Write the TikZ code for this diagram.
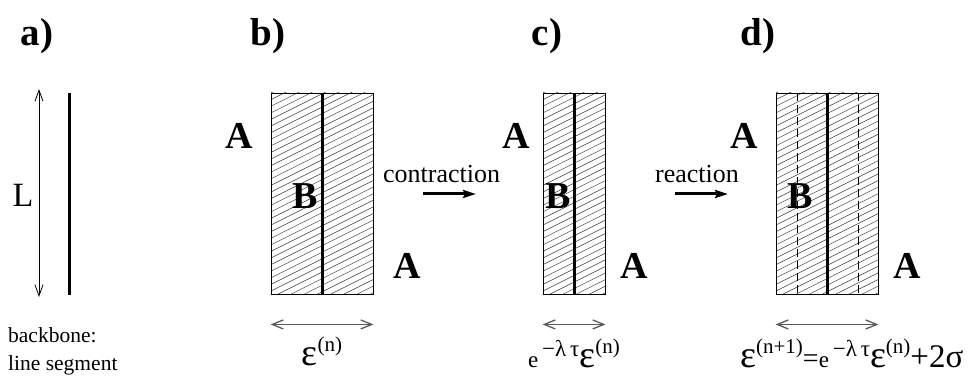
\documentclass[tikz,border=0pt]{standalone}
\usepackage{fontspec}
\setmainfont{Liberation Serif}
\usetikzlibrary{arrows.meta,calc}
\newcommand\myeps{{\fontsize{38}{38}\selectfont ε}}
\newcommand\mysupp[1]{{\fontsize{21}{21}\selectfont\raisebox{14pt}{#1}}}
\newcommand\myexp{{\fontsize{23}{23}\selectfont e\,\raisebox{11pt}{−λ\,τ}}}
\begin{document}
\begin{tikzpicture}[x=1pt,y=-1pt,
  title/.style={font=\fontsize{39}{40}\selectfont\bfseries, anchor=base, inner sep=0pt},
  letter/.style={font=\fontsize{38}{40}\selectfont\bfseries, anchor=base, inner sep=0pt},
  plain/.style={font=\fontsize{26}{28}\selectfont, inner sep=0pt},
  small/.style={font=\fontsize{21.5}{24}\selectfont, anchor=base west, inner sep=0pt},
  hatch/.style={line width=0.5pt, black!75},
  box/.style={draw=black, line width=0.9pt, minimum height=201pt, inner sep=0pt,
    path picture={\foreach \k in {0,...,48}{\draw[hatch] ([yshift=-\k*6.6pt]path picture bounding box.north west) -- ++(320,-160);}}},
  backbone/.style={line width=3pt},
  dimarrow/.style={black!65, line width=1.3pt, {Straight Barb[length=11pt,width=9pt]}-{Straight Barb[length=11pt,width=9pt]}},
  lenarrow/.style={black, line width=0.8pt, {Straight Barb[length=11pt,width=8pt]}-{Straight Barb[length=11pt,width=8pt]}},
  procarrow/.style={line width=3pt, -{Stealth[length=13pt,width=8pt,inset=2pt]}}
]
\useasboundingbox (0,0) rectangle (970,377);

% titles
\node[title] (ta) at (37,46) {a)};
\node[title] (tb) at (268,46) {b)};
\node[title] (tc) at (547,46) {c)};
\node[title] (td) at (758,46) {d)};

% panel a
\coordinate (la1) at (69,93);
\coordinate (la2) at (69,295);
\draw[backbone] (la1) -- (la2);
\coordinate (Lt) at (39,89);
\coordinate (Lb) at (39,297);
\draw[lenarrow] (Lt) -- (Lb);
\node[font=\fontsize{34}{36}\selectfont, inner sep=0pt] (L) at (23,195) {L};
\node[small] (bb1) at (8,342) {backbone:};
\node[small] (bb2) at (8,370) {line segment};

% panel b
\node[box, minimum width=102pt] (rb) at (322,193.5) {};
\draw[backbone] (rb.north) -- (rb.south);
\node[letter] (Ab1) at (239,149) {A};
\node[letter] (Bb) at (305,209) {B};
\node[letter] (Ab2) at (407,278) {A};
\draw[dimarrow] ([yshift=-30pt]rb.south west) -- ([yshift=-30pt]rb.south east);
\node[anchor=base, inner sep=0pt] (eb) at (322,365) {\myeps\mysupp{(n)}};

% contraction
\node[plain, anchor=base west] (con) at (383,183) {contraction};
\coordinate (c1) at (423,194);
\coordinate (c2) at (476,194);
\draw[procarrow] (c1) -- (c2);

% panel c
\node[box, minimum width=62pt] (rc) at (574,193.5) {};
\draw[backbone] (rc.north) -- (rc.south);
\node[letter] (Ac1) at (516,149) {A};
\node[letter] (Bc) at (558,209) {B};
\node[letter] (Ac2) at (634,278) {A};
\draw[dimarrow] ([yshift=-30pt]rc.south west) -- ([yshift=-30pt]rc.south east);
\node[anchor=base, inner sep=0pt] (ec) at (574,367) {\myexp\myeps\mysupp{(n)}};

% reaction
\node[plain, anchor=base west] (rea) at (655,183) {reaction};
\coordinate (r1) at (675,194);
\coordinate (r2) at (728,194);
\draw[procarrow] (r1) -- (r2);

% panel d
\node[box, minimum width=102pt] (rd) at (827,193.5) {};
\draw[backbone] (rd.north) -- (rd.south);
\draw[line width=0.8pt, dash pattern=on 8pt off 4pt] ([xshift=-30pt]rd.north) -- ([xshift=-30pt]rd.south);
\draw[line width=0.8pt, dash pattern=on 8pt off 4pt] ([xshift=31pt]rd.north) -- ([xshift=31pt]rd.south);
\node[letter] (Ad1) at (744,149) {A};
\node[letter] (Bd) at (800,209) {B};
\node[letter] (Ad2) at (907,278) {A};
\draw[dimarrow] ([yshift=-30pt]rd.south west) -- ([yshift=-30pt]rd.south east);
\node[anchor=base west, inner sep=0pt] (ed) at (740,367) {\myeps\mysupp{(n+1)}{\fontsize{28}{28}\selectfont =}\myexp\myeps\mysupp{(n)}{\fontsize{33}{33}\selectfont +2σ}};
\end{tikzpicture}
\end{document}
